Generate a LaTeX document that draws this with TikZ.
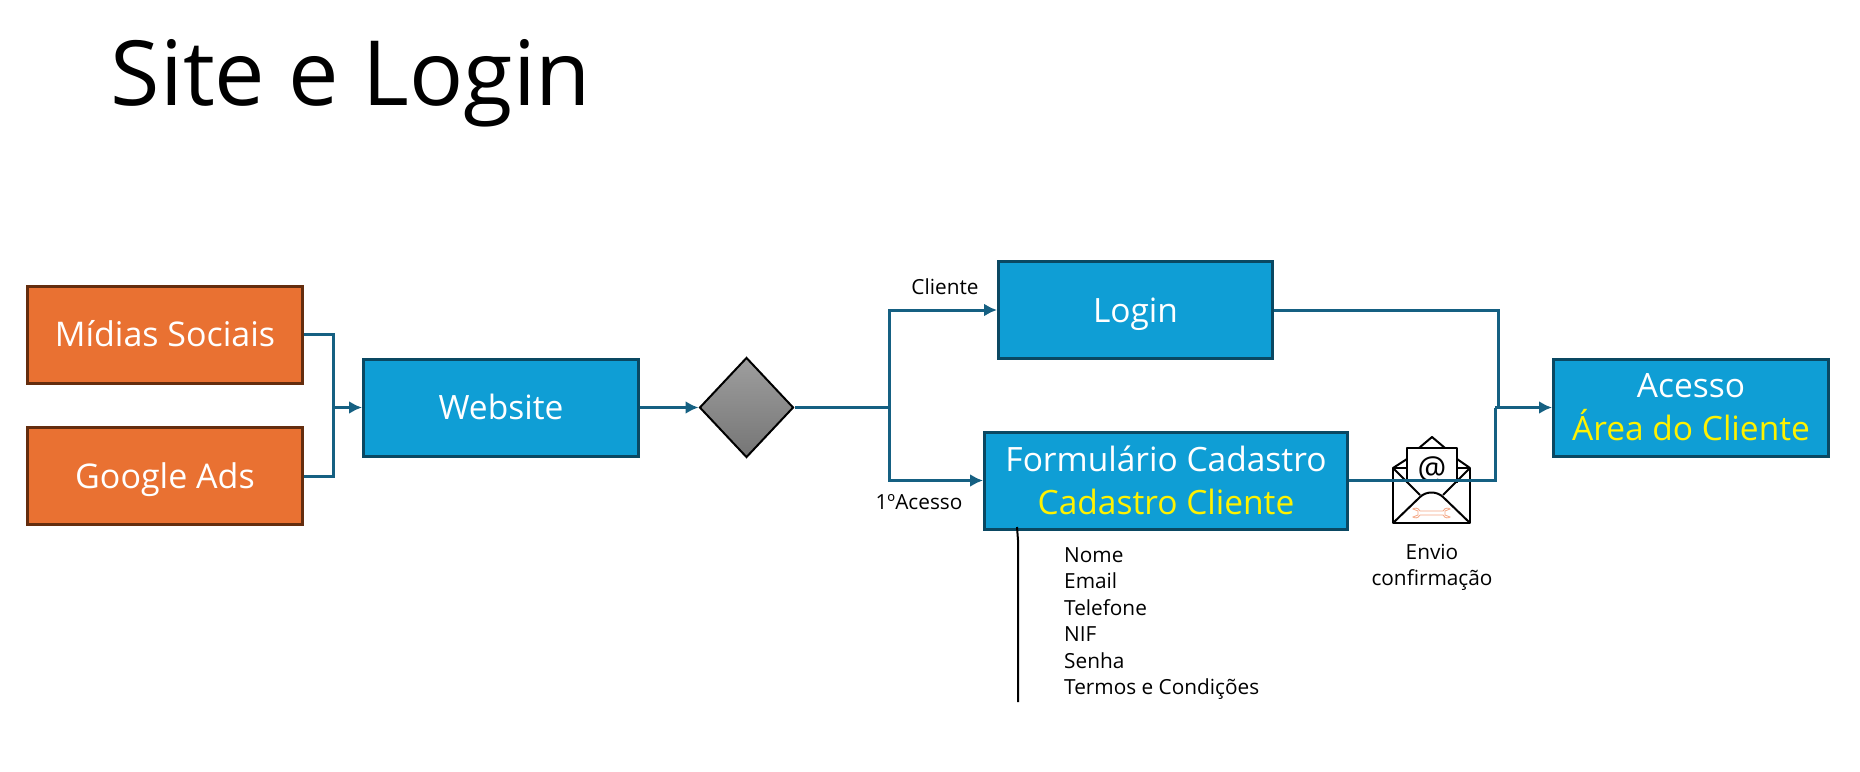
\documentclass[tikz,border=0pt]{standalone}
\usepackage{fontspec}
\setmainfont{Open Sans}
\usetikzlibrary{shapes.geometric,arrows.meta}
\definecolor{boxblue}{HTML}{0F9ED5}
\definecolor{boxblueline}{HTML}{0A4862}
\definecolor{boxorange}{HTML}{E97132}
\definecolor{boxorangeline}{HTML}{642D0E}
\definecolor{linkblue}{HTML}{156082}
\definecolor{toolorange}{HTML}{F4A582}
\tikzset{
  bluebox/.style={draw=boxblueline, fill=boxblue, line width=3pt, text=white, align=center, inner sep=0pt, font=\fontsize{33.5}{43}\selectfont},
  orangebox/.style={draw=boxorangeline, fill=boxorange, line width=3pt, text=white, align=center, inner sep=0pt, minimum width=275pt, minimum height=97pt, text height=24pt, text depth=0pt, font=\fontsize{34}{36}\selectfont},
  link/.style={draw=linkblue, line width=3pt},
  linkarrow/.style={link, -{Latex[length=13pt,width=13pt]}},
  note/.style={font=\fontsize{20.8}{26.4}\selectfont, align=left, inner sep=0pt},
  envelope/.style={draw=black, line width=2pt, line join=round}
}
\begin{document}
\begin{tikzpicture}[x=1pt,y=-1pt]
\useasboundingbox (0,0) rectangle (1860,771);
\node[inner sep=0pt, font=\fontsize{90}{100}\selectfont] (title) at (351,83) {Site e Login};

\node[orangebox] (social) at (165,334.5) {Mídias Sociais};
\node[orangebox] (ads) at (165,476) {Google Ads};
\node[bluebox, minimum width=275pt, minimum height=97pt, text height=24pt, text depth=0pt] (website) at (501,407.5) {Website};
\node[shape=diamond, draw=black, line width=2pt, inner sep=0pt, minimum width=94pt, minimum height=100pt, aspect=1, top color=black!38, bottom color=black!54] (gate) at (746.5,407.5) {};
\node[bluebox, minimum width=274pt, minimum height=97pt, text height=24pt, text depth=0pt] (login) at (1135.5,310) {Login};
\node[bluebox, minimum width=363pt, minimum height=97pt] (form) at (1166,480.5) {Formulário Cadastro\\\textcolor{yellow}{Cadastro Cliente}};
\node[bluebox, minimum width=275pt, minimum height=97pt] (area) at (1691,407.5) {Acesso\\\textcolor{yellow}{Área do Cliente}};

\coordinate (joinleft) at (333,407.5);
\coordinate (joinmid) at (889,407.5);
\coordinate (joinlogin) at (1498,407.5);
\coordinate (joinright) at (1495,407.5);

% envelope icon
\draw[envelope] (1393,468) rectangle (1470,523);
\draw[envelope] (1393,468) -- (1407,459) (1457,459) -- (1470,468);
\draw[envelope] (1419,448) -- (1432,437) -- (1445,448);
\draw[envelope, fill=white] (1407,483) -- (1407,448) -- (1457,448) -- (1457,483);
\draw[envelope] (1393,468) -- (1420,495) (1470,468) -- (1443,495);
\draw[envelope] (1393,523) -- (1420,497) .. controls (1426,491) and (1437,491) .. (1443,497) -- (1470,523);
\node[inner sep=0pt, font=\fontsize{32}{34}\selectfont] (at) at (1432,470) {@};
\draw[toolorange, line width=0.8pt] (1420,511) -- (1443,511) (1420,515) -- (1443,515)
  (1420,511) .. controls (1418,507) and (1414,508) .. (1413,509) -- (1418,511) -- (1418,515) -- (1413,517) .. controls (1414,518) and (1418,519) .. (1420,515)
  (1443,511) .. controls (1445,507) and (1449,508) .. (1450,509) -- (1445,511) -- (1445,515) -- (1450,517) .. controls (1449,518) and (1445,519) .. (1443,515);

\draw[link] (social.east) -| (joinleft);
\draw[link] (ads.east) -| (joinleft);
\draw[linkarrow] (joinleft) -- (website.west);
\draw[linkarrow] (website.east) -- (gate.west);
\draw[link] (gate.east) -- (joinmid);
\draw[linkarrow] (joinmid) |- (login.west);
\draw[linkarrow] (joinmid) |- (form.west);
\draw[link] (login.east) -| (joinlogin);
\draw[link] (form.east) -| (joinright);
\draw[linkarrow] (joinright) -- (area.west);

\node[note] (cliente) at (945,287) {Cliente};
\node[note] (primeiro) at (919,502) {1ºAcesso};
\node[note, align=center] (envio) at (1432,567.5) {Envio\\confirmação};
\node[note, anchor=north west] (campos) at (1064,547.5) {Nome\\Email\\Telefone\\NIF\\Senha\\Termos e Condições};

\coordinate (marktop) at (1017,527);
\coordinate (markbend) at (1018,540);
\coordinate (markend) at (1018,702);
\draw[black, line width=2pt] (marktop) -- (markbend) -- (markend);
\end{tikzpicture}
\end{document}
